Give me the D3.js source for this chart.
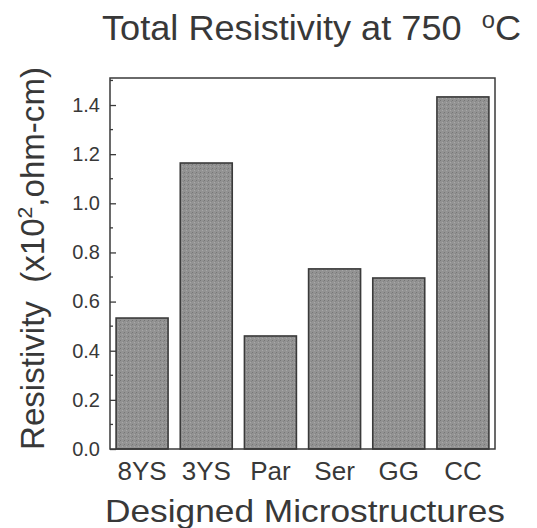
<!DOCTYPE html>
<html><head><meta charset="utf-8">
<script src="https://cdn.jsdelivr.net/npm/d3@7"></script>
<style>body{margin:0;background:#fff}svg{display:block}text{font-family:Arial,"Liberation Sans",sans-serif;fill:#383838;white-space:pre}</style>
</head><body><svg id="c" width="537" height="528"></svg>
<script>
const categories = ["8YS","3YS","Par","Ser","GG","CC"];
const values = [0.533,1.164,0.46,0.733,0.696,1.433];
const yTicks = [0,0.2,0.4,0.6,0.8,1.0,1.2,1.4];
const yMinor = [0.1,0.3,0.5,0.7,0.9,1.1,1.3,1.5];

const svg = d3.select("#c");
const L=110,R=495,T=78,B=449;
const x = d3.scaleBand().domain(categories).range([L,R]).paddingInner(0.19).paddingOuter(0.095);
const y = d3.scaleLinear().domain([0,1.51]).range([B,T]);

const defs = svg.append("defs");
const pat = defs.append("pattern").attr("id","tex").attr("width",4).attr("height",4).attr("patternUnits","userSpaceOnUse");
pat.append("rect").attr("width",4).attr("height",4).attr("fill","#939393");
pat.append("rect").attr("x",0).attr("y",0).attr("width",1).attr("height",1).attr("fill","#767676");
pat.append("rect").attr("x",2).attr("y",2).attr("width",1).attr("height",1).attr("fill","#a8a8a8");
pat.append("rect").attr("x",3).attr("y",1).attr("width",1).attr("height",1).attr("fill","#858585");

svg.selectAll("rect.bar").data(values).enter().append("rect").attr("class","bar")
  .attr("x",(d,i)=>x(categories[i])).attr("width",x.bandwidth())
  .attr("y",d=>y(d)).attr("height",d=>B-y(d))
  .attr("fill","url(#tex)").attr("stroke","#3a3a3a").attr("stroke-width",1.6);

// frame
svg.append("rect").attr("x",L).attr("y",T).attr("width",R-L).attr("height",B-T)
  .attr("fill","none").attr("stroke","#3a3a3a").attr("stroke-width",1.5);

const ya = svg.append("g").attr("transform",`translate(${L},0)`)
  .call(d3.axisLeft(y).tickValues(yTicks).tickFormat(d3.format(".1f")).tickSize(-6).tickPadding(10));
ya.select(".domain").remove();
ya.selectAll("line").attr("stroke","#3a3a3a").attr("stroke-width",1.3);
ya.selectAll("text").style("font-size","20px").attr("fill","#383838");
svg.append("g").selectAll("line").data(yMinor).enter().append("line")
  .attr("x1",L).attr("x2",L+3).attr("y1",d=>y(d)).attr("y2",d=>y(d))
  .attr("stroke","#3a3a3a").attr("stroke-width",1.3);

const xa = svg.append("g").attr("transform",`translate(0,${B})`)
  .call(d3.axisBottom(x).tickSize(0).tickPadding(13));
xa.select(".domain").remove();
xa.selectAll("text").style("font-size","26px").attr("fill","#383838");

const t = svg.append("text").attr("x",102).attr("y",40).attr("text-anchor","start").style("font-size","35px")
  .attr("textLength",419).attr("lengthAdjust","spacingAndGlyphs");
t.append("tspan").text("Total Resistivity at 750  ");
t.append("tspan").attr("dy",-12).style("font-size","23px").text("o");
t.append("tspan").attr("dy",12).text("C");

const yl = svg.append("text").attr("transform",`translate(44,450) rotate(-90)`).attr("text-anchor","start").style("font-size","33px")
  .attr("textLength",383).attr("lengthAdjust","spacingAndGlyphs");
yl.append("tspan").text("Resistivity  (x10");
yl.append("tspan").attr("dy",-12).style("font-size","21px").text("2");
yl.append("tspan").attr("dy",12).text(",ohm-cm)");

svg.append("text").attr("x",105).attr("y",522).attr("text-anchor","start").style("font-size","32px")
  .attr("textLength",400).attr("lengthAdjust","spacingAndGlyphs").text("Designed Microstructures");
</script></body></html>
